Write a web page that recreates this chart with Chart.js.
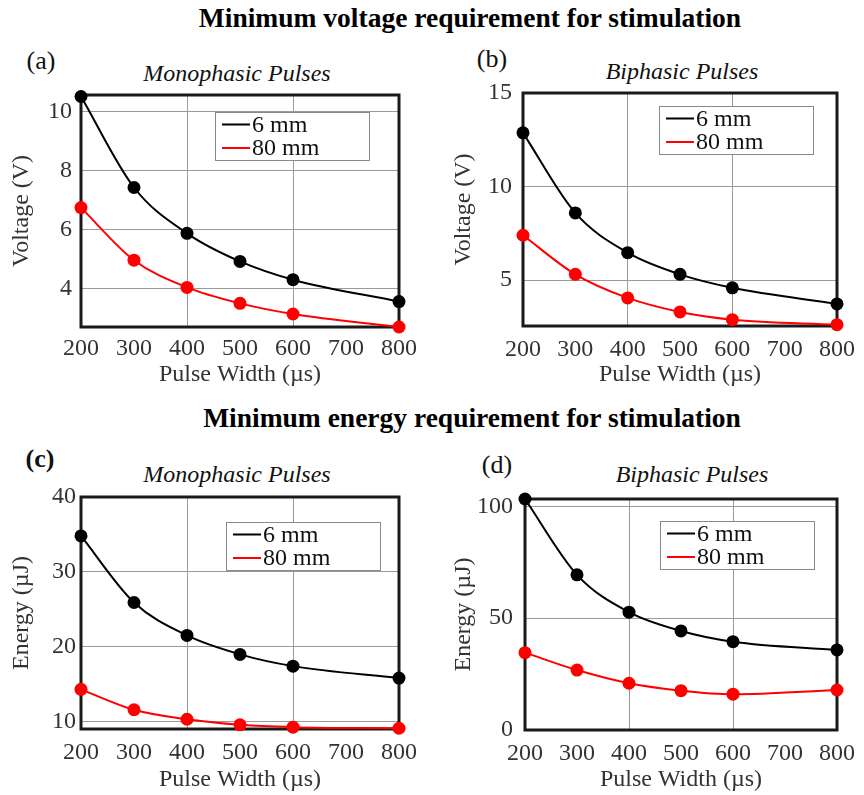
<!DOCTYPE html>
<html>
<head>
<meta charset="utf-8">
<title>Minimum stimulation requirements</title>
<script src="https://cdn.jsdelivr.net/npm/chart.js@4.4.1/dist/chart.umd.min.js"></script>
<style>
  html, body { margin: 0; padding: 0; background: #fff; }
  #page { position: relative; width: 864px; height: 795px; font-family: "Liberation Serif", "Times New Roman", serif; color: #111; }
  .txt { position: absolute; transform: translate(-50%, -50%); white-space: nowrap; line-height: 1; }
  .heading { font-size: 27.5px; font-weight: bold; color: #000; }
  .sub { font-size: 24px; font-style: italic; }
  .tag { font-size: 26px; }
  canvas { position: absolute; }
</style>
</head>
<body>
<div id="page">
  <div class="txt heading" style="left:470px; top:18px;">Minimum voltage requirement for stimulation</div>
  <div class="txt heading" style="left:472px; top:418px;">Minimum energy requirement for stimulation</div>

  <div class="txt tag" style="left:41px; top:61px;">(a)</div>
  <div class="txt tag" style="left:492px; top:59px;">(b)</div>
  <div class="txt tag" style="left:40px; top:459px; font-weight:bold;">(c)</div>
  <div class="txt tag" style="left:497px; top:465px;">(d)</div>

  <div class="txt sub" style="left:237px; top:73px;">Monophasic Pulses</div>
  <div class="txt sub" style="left:682px; top:71px;">Biphasic Pulses</div>
  <div class="txt sub" style="left:237px; top:474px;">Monophasic Pulses</div>
  <div class="txt sub" style="left:692px; top:474px;">Biphasic Pulses</div>

  <canvas id="chartA" width="430" height="350" style="left:0; top:40px;"></canvas>
  <canvas id="chartB" width="434" height="350" style="left:430px; top:40px;"></canvas>
  <canvas id="chartC" width="430" height="355" style="left:0; top:440px;"></canvas>
  <canvas id="chartD" width="434" height="355" style="left:430px; top:440px;"></canvas>
</div>

<script>
// pulse widths (µs) where thresholds were measured
const pulseWidths = [200, 300, 400, 500, 600, 800];
const xTickValues = [200, 300, 400, 500, 600, 700, 800];

// minimum voltage (V)
const voltMono6 = [10.5, 7.42, 5.87, 4.92, 4.30, 3.56];
const voltMono80 = [6.74, 4.96, 4.04, 3.50, 3.14, 2.70];
const voltBi6 = [12.87, 8.59, 6.47, 5.31, 4.59, 3.73];
const voltBi80 = [7.40, 5.31, 4.05, 3.30, 2.89, 2.62];

// minimum energy (µJ)
const energyMono6 = [34.8, 25.9, 21.5, 18.97, 17.4, 15.8];
const energyMono80 = [14.3, 11.57, 10.3, 9.56, 9.25, 9.1];
const energyBi6 = [103.3, 69.4, 52.7, 44.3, 39.5, 35.8];
const energyBi80 = [34.6, 26.8, 20.9, 17.6, 16.0, 17.9];

const voltMonoTicks = [4, 6, 8, 10];
const voltBiTicks = [5, 10, 15];
const energyMonoTicks = [10, 20, 30, 40];
const energyBiTicks = [0, 50, 100];

const FONT = 'Liberation Serif';
const GRID = '#9a9a9a';
const LABEL = '#333';

// thick frame around the plot area
const frame = {
  id: 'frame',
  beforeDatasetsDraw(chart) {
    const {ctx, chartArea: a} = chart;
    ctx.save();
    ctx.strokeStyle = '#1a1a1a';
    ctx.lineWidth = 3;
    ctx.strokeRect(a.left, a.top, a.right - a.left, a.bottom - a.top);
    ctx.restore();
  }
};

// boxed legend in the upper right of the plot
const legendBox = {
  id: 'legendBox',
  afterDatasetsDraw(chart, args, opts) {
    const {ctx, chartArea: a} = chart;
    const w = 154, h = 48;
    const x = Math.round(a.right - opts.right - w);
    const y = Math.round(a.top + opts.top);
    ctx.save();
    ctx.fillStyle = '#fff';
    ctx.fillRect(x, y, w, h);
    ctx.strokeStyle = '#8a8a8a';
    ctx.lineWidth = 1;
    ctx.strokeRect(x + 0.5, y + 0.5, w, h);
    ctx.font = '24px "' + FONT + '"';
    ctx.textBaseline = 'middle';
    chart.data.datasets.forEach((ds, i) => {
      const cy = y + 12.5 + i * 23.5;
      ctx.strokeStyle = ds.borderColor;
      ctx.lineWidth = 2;
      ctx.beginPath();
      ctx.moveTo(x + 7, cy);
      ctx.lineTo(x + 35, cy);
      ctx.stroke();
      ctx.fillStyle = '#111';
      ctx.fillText(ds.label, x + 37, cy + 1);
    });
    ctx.restore();
  }
};

function series(label, values, color) {
  return {
    label: label,
    data: pulseWidths.map((x, i) => ({x: x, y: values[i]})),
    borderColor: color,
    backgroundColor: color,
    borderWidth: 2,
    pointRadius: 6.5,
    pointBorderWidth: 0,
    pointBackgroundColor: color,
    cubicInterpolationMode: 'monotone',
    clip: false
  };
}

function makeChart(id, p) {
  const canvas = document.getElementById(id);
  const w = canvas.width, h = canvas.height;
  return new Chart(canvas, {
    type: 'line',
    data: {
      datasets: [
        series('6 mm', p.s6, '#000'),
        series('80 mm', p.s80, '#ff0000')
      ]
    },
    options: {
      responsive: false,
      animation: false,
      layout: {padding: {left: 0, top: p.area[1], right: w - p.area[2], bottom: 0}},
      plugins: {
        legend: {display: false},
        tooltip: {enabled: false},
        legendBox: p.legend
      },
      scales: {
        x: {
          type: 'linear',
          min: 200,
          max: 800,
          afterBuildTicks: s => { s.ticks = xTickValues.map(v => ({value: v})); },
          afterFit: s => { s.height = h - p.area[3]; },
          border: {display: false},
          grid: {
            drawTicks: false,
            lineWidth: 1,
            color: c => (c.tick && c.tick.value % 200 === 0) ? GRID : 'rgba(0,0,0,0)'
          },
          ticks: {color: LABEL, font: {family: FONT, size: 24}, padding: p.xPad, maxRotation: 0, autoSkip: false},
          title: {display: true, text: 'Pulse Width (µs)', color: LABEL, font: {family: FONT, size: 24}, padding: {top: 0, bottom: 1}}
        },
        y: {
          min: p.yMin,
          max: p.yMax,
          afterBuildTicks: s => { s.ticks = p.yTicks.map(v => ({value: v})); },
          afterFit: s => { s.width = p.area[0]; },
          border: {display: false},
          grid: {drawTicks: false, lineWidth: 1, color: GRID},
          ticks: {color: LABEL, font: {family: FONT, size: 24}, padding: p.yPad},
          title: {display: true, text: p.yTitle, color: LABEL, font: {family: FONT, size: 24}, padding: {top: p.yTitleX - 14.4, bottom: 0}}
        }
      }
    },
    plugins: [frame, legendBox]
  });
}

function drawAll() {
  makeChart('chartA', {
    s6: voltMono6, s80: voltMono80, yTicks: voltMonoTicks, yMin: 2.7, yMax: 10.55,
    yTitle: 'Voltage (V)', area: [81, 55, 399, 287], xPad: 7, yPad: 9, yTitleX: 22,
    legend: {right: 30, top: 17}
  });
  makeChart('chartB', {
    s6: voltBi6, s80: voltBi80, yTicks: voltBiTicks, yMin: 2.55, yMax: 15,
    yTitle: 'Voltage (V)', area: [93, 53, 413, 286], xPad: 9, yPad: 11, yTitleX: 34,
    legend: {right: 24, top: 13}
  });
  makeChart('chartC', {
    s6: energyMono6, s80: energyMono80, yTicks: energyMonoTicks, yMin: 9, yMax: 40,
    yTitle: 'Energy (µJ)', area: [81, 57, 399, 289], xPad: 9, yPad: 5, yTitleX: 22,
    legend: {right: 19, top: 25}
  });
  makeChart('chartD', {
    s6: energyBi6, s80: energyBi80, yTicks: energyBiTicks, yMin: 0, yMax: 103.3,
    yTitle: 'Energy (µJ)', area: [95, 59, 413, 290], xPad: 9, yPad: 12, yTitleX: 34,
    legend: {right: 23, top: 22}
  });
}

window.addEventListener('load', drawAll);
</script>
</body>
</html>
